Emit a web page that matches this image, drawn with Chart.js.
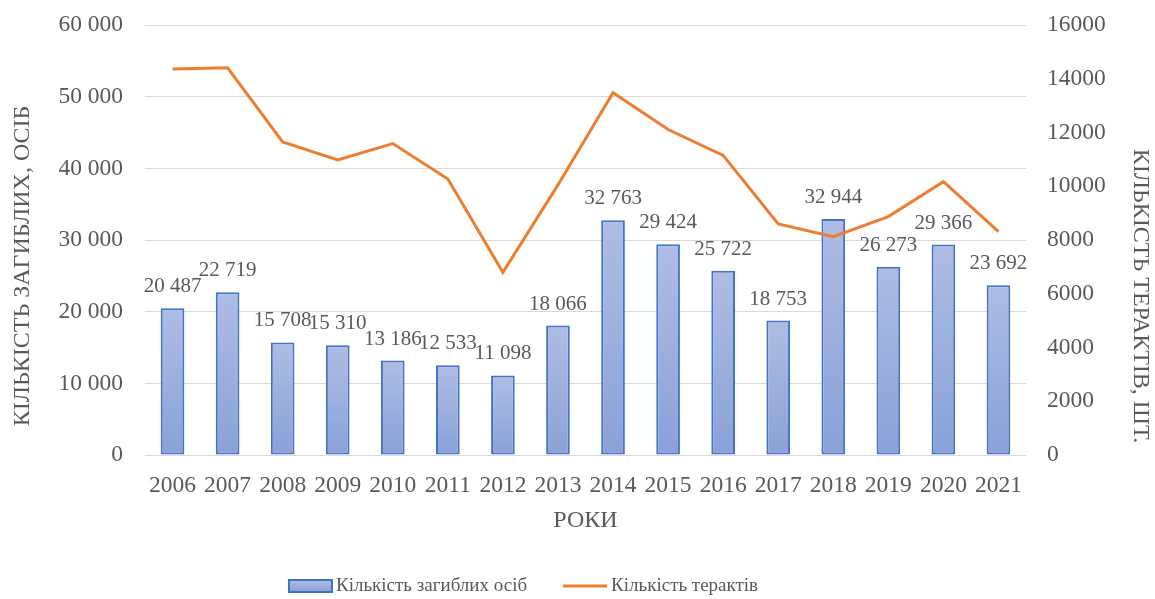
<!DOCTYPE html>
<html>
<head>
<meta charset="utf-8">
<script src="https://cdn.jsdelivr.net/npm/chart.js@4"></script>
<style>
  html, body { margin: 0; padding: 0; background: #fff; }
  #wrap { width: 1155px; height: 599px; }
</style>
</head>
<body>
<div id="wrap"><canvas id="chart" width="1155" height="599"></canvas></div>
<script>
// Дані з діаграми
const years = ['2006', '2007', '2008', '2009', '2010', '2011', '2012', '2013',
               '2014', '2015', '2016', '2017', '2018', '2019', '2020', '2021'];
const deaths = [20487, 22719, 15708, 15310, 13186, 12533, 11098, 18066,
                32763, 29424, 25722, 18753, 32944, 26273, 29366, 23692];
const attacks = [14360, 14410, 11650, 10980, 11590, 10270, 6800, 10050,
                 13480, 12110, 11150, 8600, 8120, 8870, 10170, 8310];
const leftTicks = [0, 10000, 20000, 30000, 40000, 50000, 60000];
const rightTicks = [0, 2000, 4000, 6000, 8000, 10000, 12000, 14000, 16000];

const FONT = 'Liberation Serif';
const GREY = '#595959';
const BAR_BORDER = '#4472c4';
const LINE_COLOR = '#ed7d31';

function spaced(v) {
    return String(v).replace(/\B(?=(\d{3})+(?!\d))/g, ' ');
}

// Градієнт для кожного стовпчика окремо
function barFill(ctx) {
    const chart = ctx.chart;
    if (!chart.chartArea || ctx.raw == null) return '#9aafdd';
    const y = chart.scales.y;
    const top = y.getPixelForValue(ctx.raw);
    const bottom = y.getPixelForValue(0);
    const g = chart.ctx.createLinearGradient(0, top, 0, bottom);
    g.addColorStop(0, '#aebde3');
    g.addColorStop(1, '#8aa1d8');
    return g;
}

// Підписи значень над стовпчиками
const barLabels = {
    id: 'barLabels',
    afterDatasetsDraw(chart) {
        const ctx = chart.ctx;
        const meta = chart.getDatasetMeta(0);
        ctx.save();
        ctx.font = '21px "' + FONT + '"';
        ctx.fillStyle = GREY;
        ctx.textAlign = 'center';
        ctx.textBaseline = 'alphabetic';
        meta.data.forEach((bar, i) => {
            ctx.fillText(spaced(deaths[i]), bar.x, bar.y - 16);
        });
        ctx.restore();
    }
};

// Назви вертикальних осей (зміщені, як в Excel)
const axisTitles = {
    id: 'axisTitles',
    afterDraw(chart) {
        const ctx = chart.ctx;
        ctx.save();
        ctx.font = '24px "' + FONT + '"';
        ctx.fillStyle = GREY;
        ctx.textAlign = 'center';
        ctx.textBaseline = 'middle';
        ctx.translate(23, 266);
        ctx.rotate(-Math.PI / 2);
        ctx.fillText('КІЛЬКІСТЬ ЗАГИБЛИХ, ОСІБ', 0, 0);
        ctx.restore();
        ctx.save();
        ctx.font = '24px "' + FONT + '"';
        ctx.fillStyle = GREY;
        ctx.textAlign = 'center';
        ctx.textBaseline = 'middle';
        ctx.translate(1140, 296);
        ctx.rotate(Math.PI / 2);
        ctx.fillText('КІЛЬКІСТЬ ТЕРАКТІВ, ШТ.', 0, 0);
        ctx.restore();
    }
};

// Легенда внизу
const bottomLegend = {
    id: 'bottomLegend',
    afterDraw(chart) {
        const ctx = chart.ctx;
        const items = chart.data.datasets.map(d => d.label);
        ctx.save();
        ctx.font = '19px "' + FONT + '"';
        const boxW = 43, gapText = 4, gapItems = 36;
        const widths = items.map(t => ctx.measureText(t).width);
        let x = 289;
        const y = 586;
        // стовпчик
        const g = ctx.createLinearGradient(0, y - 6, 0, y + 6);
        g.addColorStop(0, '#aebde3');
        g.addColorStop(1, '#8aa1d8');
        ctx.fillStyle = g;
        ctx.fillRect(x, y - 6, boxW, 12);
        ctx.strokeStyle = BAR_BORDER;
        ctx.lineWidth = 2;
        ctx.strokeRect(x, y - 6, boxW, 12);
        x += boxW + gapText;
        ctx.fillStyle = GREY;
        ctx.textBaseline = 'middle';
        ctx.fillText(items[0], x, y);
        x += widths[0] + gapItems;
        // лінія
        ctx.strokeStyle = LINE_COLOR;
        ctx.lineWidth = 3;
        ctx.beginPath();
        ctx.moveTo(x, y);
        ctx.lineTo(x + 44, y);
        ctx.stroke();
        x += 44 + gapText;
        ctx.fillText(items[1], x, y);
        ctx.restore();
    }
};

// Фіксована ширина осі без додаткових відступів зверху і знизу
function fixWidth(w) {
    return function (s) {
        s.width = w;
        s.paddingTop = 0;
        s.paddingBottom = 0;
    };
}

new Chart(document.getElementById('chart').getContext('2d'), {
    type: 'bar',
    data: {
        labels: years,
        datasets: [{
            type: 'bar',
            label: 'Кількість загиблих осіб',
            data: deaths,
            yAxisID: 'y',
            backgroundColor: barFill,
            borderColor: BAR_BORDER,
            borderWidth: 2,
            borderSkipped: false,
            categoryPercentage: 1,
            barPercentage: 0.43,
            order: 1
        }, {
            type: 'line',
            label: 'Кількість терактів',
            data: attacks,
            yAxisID: 'y1',
            borderColor: LINE_COLOR,
            borderWidth: 3,
            pointRadius: 0,
            tension: 0,
            fill: false,
            order: 0
        }]
    },
    options: {
        responsive: false,
        animation: false,
        layout: { padding: { top: 25, left: 0, right: 0, bottom: 64 } },
        plugins: {
            legend: { display: false },
            tooltip: { enabled: false }
        },
        scales: {
            x: {
                grid: { display: false },
                border: { display: false },
                ticks: {
                    color: GREY,
                    font: { family: FONT, size: 23.5 },
                    padding: 9,
                    maxRotation: 0,
                    autoSkip: false
                },
                title: {
                    display: true,
                    text: 'РОКИ',
                    color: GREY,
                    font: { family: FONT, size: 24 },
                    padding: { top: 0, bottom: 0 }
                },
                afterFit(s) {
                    s.height = 80;
                    s.paddingLeft = 0;
                    s.paddingRight = 0;
                }
            },
            y: {
                position: 'left',
                min: 0,
                max: 60000,
                afterBuildTicks(s) { s.ticks = leftTicks.map(v => ({ value: v })); },
                grid: { color: '#d9d9d9', lineWidth: 1, drawTicks: false },
                border: { display: false },
                ticks: {
                    color: GREY,
                    font: { family: FONT, size: 23.5 },
                    padding: 22,
                    callback: v => spaced(v)
                },
                afterFit: fixWidth(145)
            },
            y1: {
                position: 'right',
                min: 0,
                max: 16000,
                afterBuildTicks(s) { s.ticks = rightTicks.map(v => ({ value: v })); },
                grid: { display: false, drawTicks: false },
                border: { display: false },
                ticks: {
                    color: GREY,
                    font: { family: FONT, size: 23.5 },
                    padding: 21,
                    callback: v => String(v)
                },
                afterFit: fixWidth(129)
            }
        }
    },
    plugins: [barLabels, axisTitles, bottomLegend]
});
</script>
</body>
</html>
